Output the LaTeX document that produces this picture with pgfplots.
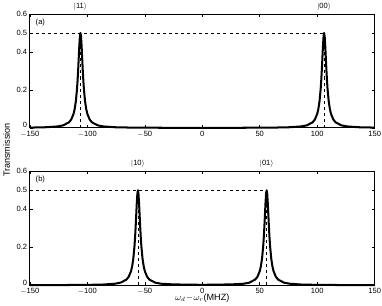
\documentclass[border=0pt]{standalone}
\usepackage{pgfplots}
\pgfplotsset{compat=1.18}
\usepackage{fontspec}
\setmainfont{Liberation Sans}
\begin{document}
\begin{tikzpicture}[font=\fontsize{7.5}{9}\selectfont]
\pgfplotsset{
  panel/.style={
    scale only axis, width=342pt, height=113pt,
    xmin=-150, xmax=150, ymin=0, ymax=0.6,
    xtick={-150,-100,-50,0,50,100,150},
    xticklabels={$-$150,$-$100,$-$50,0,50,100,150},
    ytick={0.2,0.4,0.5,0.6},
    yticklabels={0.2,0.4,0.5,0.6},
    extra y ticks={0},
    extra y tick labels={0},
    extra y tick style={yticklabel style={yshift=2.5pt}},
    tick align=inside, tick pos=both,
    major tick length=3pt,
    axis line style={line width=0.9pt},
    tick style={line width=0.5pt, black},
    clip=false,
    xticklabel style={yshift=-2pt, inner sep=1pt},
    yticklabel style={xshift=-2pt, inner sep=0.5pt},
    label style={font=\fontsize{9}{11}\selectfont},
  },
  curve/.style={black, line width=2pt, line join=round},
  guide/.style={black, dashed, line width=0.5pt},
}
% top panel
\begin{axis}[panel, at={(0,156pt)}]
\addplot[guide] coordinates {(-150,0.5)(106,0.5)};
\addplot[guide] coordinates {(-106,0)(-106,0.5)};
\addplot[guide] coordinates {(106,0)(106,0.5)};
\addplot[curve] coordinates {
(-150,0.0016)(-136,0.0035)(-126,0.0077)(-121,0.0135)(-116,0.0294)(-114,0.0445)(-112,0.0740)(-111,0.1)(-110,0.1404)(-109,0.2049)(-108.5,0.25)(-108,0.3049)(-107.5,0.3676)(-107,0.4310)(-106.5,0.4808)(-106,0.5)(-105.5,0.4808)(-105,0.4310)(-104.5,0.3676)(-104,0.3049)(-103.5,0.25)(-103,0.2049)(-102,0.1404)(-101,0.1)(-100,0.0740)(-98,0.0445)(-96,0.0294)(-91,0.0135)(-86,0.0077)(-76,0.0035)(-61,0.0015)(-30,0.0006)(0,0.0004)
(30,0.0006)(61,0.0015)(76,0.0035)(86,0.0077)(91,0.0135)(96,0.0294)(98,0.0445)(100,0.0740)(101,0.1)(102,0.1404)(103,0.2049)(103.5,0.25)(104,0.3049)(104.5,0.3676)(105,0.4310)(105.5,0.4808)(106,0.5)(106.5,0.4808)(107,0.4310)(107.5,0.3676)(108,0.3049)(108.5,0.25)(109,0.2049)(110,0.1404)(111,0.1)(112,0.0740)(114,0.0445)(116,0.0294)(121,0.0135)(126,0.0077)(136,0.0035)(150,0.0016)
};
\node[anchor=west] at (axis cs:-148,0.557) {(a)};
\node[anchor=south] at (axis cs:-106,0.6) {$|$11$\rangle$};
\node[anchor=south] at (axis cs:106,0.6) {$|$00$\rangle$};
\end{axis}
% bottom panel
\begin{axis}[panel, at={(0,0)},
  xlabel={$\omega_d$\kern0.5pt$-$\kern0.5pt$\omega_r$(MHZ)},
  xlabel style={yshift=5pt}]
\addplot[guide] coordinates {(-150,0.5)(56,0.5)};
\addplot[guide] coordinates {(-56,0)(-56,0.5)};
\addplot[guide] coordinates {(56,0)(56,0.5)};
\addplot[curve] coordinates {
(-150,0.0004)(-120,0.0008)(-100,0.0016)(-86,0.0035)(-76,0.0077)(-71,0.0135)(-66,0.0294)(-64,0.0445)(-62,0.0740)(-61,0.1)(-60,0.1404)(-59,0.2049)(-58.5,0.25)(-58,0.3049)(-57.5,0.3676)(-57,0.4310)(-56.5,0.4808)(-56,0.5)(-55.5,0.4808)(-55,0.4310)(-54.5,0.3676)(-54,0.3049)(-53.5,0.25)(-53,0.2049)(-52,0.1404)(-51,0.1)(-50,0.0740)(-48,0.0445)(-46,0.0294)(-41,0.0135)(-36,0.0077)(-26,0.0043)(-11,0.0026)(0,0.002)
(11,0.0026)(26,0.0043)(36,0.0077)(41,0.0135)(46,0.0294)(48,0.0445)(50,0.0740)(51,0.1)(52,0.1404)(53,0.2049)(53.5,0.25)(54,0.3049)(54.5,0.3676)(55,0.4310)(55.5,0.4808)(56,0.5)(56.5,0.4808)(57,0.4310)(57.5,0.3676)(58,0.3049)(58.5,0.25)(59,0.2049)(60,0.1404)(61,0.1)(62,0.0740)(64,0.0445)(66,0.0294)(71,0.0135)(76,0.0077)(86,0.0035)(100,0.0016)(120,0.0008)(150,0.0004)
};
\node[anchor=west] at (axis cs:-148,0.557) {(b)};
\node[anchor=south] at (axis cs:-56,0.6) {$|$10$\rangle$};
\node[anchor=south] at (axis cs:56,0.6) {$|$01$\rangle$};
\end{axis}
\node[rotate=90, font=\fontsize{9}{11}\selectfont] at (-23pt,134pt) {Transmission};
\end{tikzpicture}
\end{document}
